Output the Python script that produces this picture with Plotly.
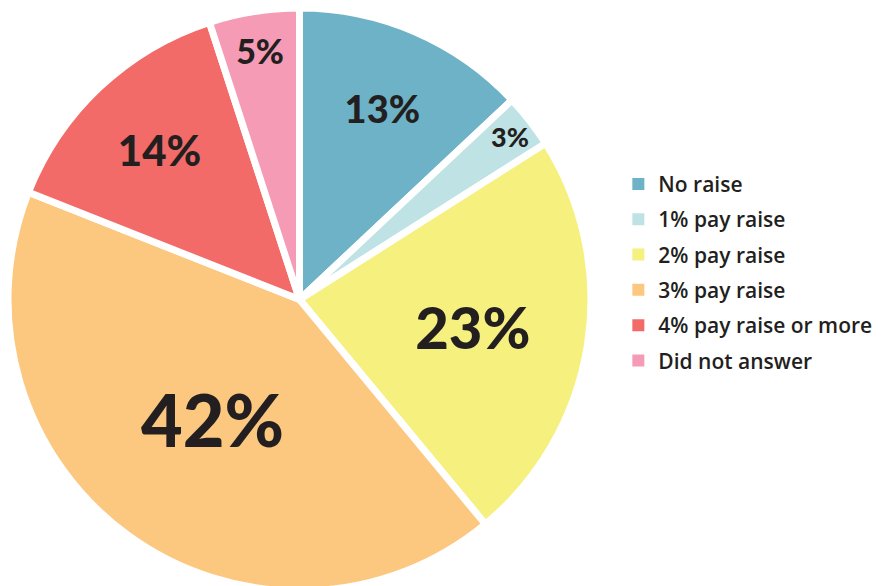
import plotly.graph_objects as go

labels = ["No raise", "1% pay raise", "2% pay raise", "3% pay raise", "4% pay raise or more", "Did not answer"]
values = [13, 3, 23, 42, 14, 5]
colors = ["#6db2c6", "#bfe3e5", "#f6f07e", "#fcc880", "#f26b68", "#f59bb5"]
label_sizes = [38, 27, 58, 72, 42, 34]

fig = go.Figure()
fig.add_trace(go.Pie(
    labels=labels, values=values, sort=False, direction="clockwise", rotation=0,
    marker=dict(colors=colors, line=dict(color="white", width=7)),
    texttemplate="%{value}%", textposition="inside", insidetextorientation="horizontal",
    textfont=dict(family="Lato", size=label_sizes, color="#231f20", weight=900),
    domain=dict(x=[0, 583/882], y=[0.005, 1]),
    showlegend=False, hoverinfo="label+percent",
))
for lab, col in zip(labels, colors):
    fig.add_trace(go.Scatter(
        x=[None], y=[None], mode="markers", name=lab, legendgroup=lab,
        marker=dict(symbol="square", size=12, color=col), showlegend=True,
    ))

fig.update_layout(
    width=882, height=586, margin=dict(l=0, r=0, t=0, b=0),
    paper_bgcolor="white", plot_bgcolor="white",
    xaxis=dict(visible=False), yaxis=dict(visible=False),
    legend=dict(x=0.692, y=0.549, xanchor="left", yanchor="middle",
                font=dict(family="Open Sans", size=21, color="#231f20", weight=600),
                tracegroupgap=5, itemclick=False),
)
fig.write_html("out.html")
